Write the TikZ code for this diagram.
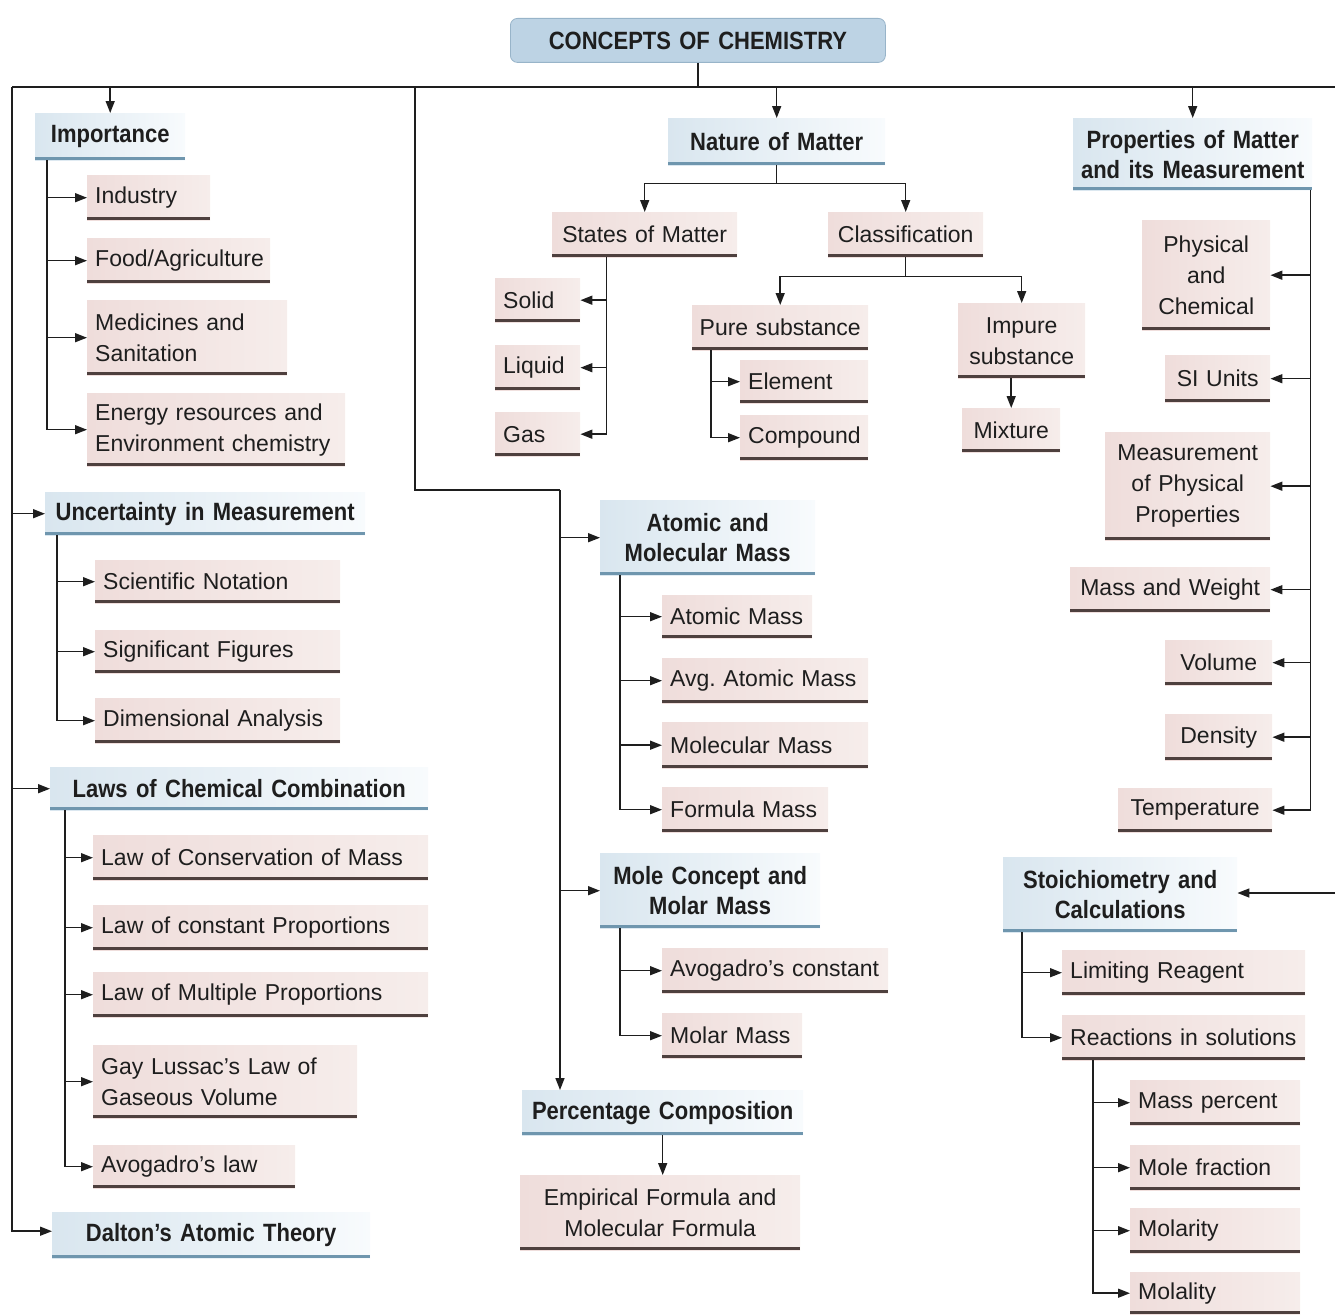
\documentclass[tikz,border=0pt]{standalone}
\usepackage{fontspec}
\setmainfont{Liberation Sans}
\newfontfamily\hdfont[FakeStretch=0.88]{Liberation Sans}
\usetikzlibrary{arrows.meta}
\frenchspacing
\hyphenpenalty=10000
\exhyphenpenalty=10000
\definecolor{pkL}{HTML}{EFDDDB}
\definecolor{pkR}{HTML}{F6EDEB}
\definecolor{shd}{HTML}{4E403E}
\definecolor{hdL}{HTML}{D9E6EF}
\definecolor{hdR}{HTML}{F8FBFD}
\definecolor{hdline}{HTML}{6F96AE}
\definecolor{ttl}{HTML}{BDD3E4}
\definecolor{ttlb}{HTML}{98B4C9}
\definecolor{ink}{HTML}{1E1E1E}
\tikzset{
  pk/.style={anchor=north west, inner xsep=8pt, inner ysep=0pt,
    font=\fontsize{23}{31}\selectfont, left color=pkL, right color=pkR,
    text=ink,
    path picture={\draw[line width=3pt,shd]
      ([yshift=1.5pt]path picture bounding box.south west) --
      ([yshift=1.5pt]path picture bounding box.south east);}},
  pkc/.style={pk, inner xsep=2pt, align=center},
  hd/.style={anchor=north west, inner xsep=2pt, inner ysep=0pt, align=center,
    font=\hdfont\bfseries\fontsize{25}{30}\selectfont, left color=hdL, right color=hdR,
    text=ink,
    path picture={\draw[line width=3pt,hdline]
      ([yshift=1.5pt]path picture bounding box.south west) --
      ([yshift=1.5pt]path picture bounding box.south east);}},
  ttlbox/.style={anchor=north west, inner xsep=2pt, inner ysep=0pt, align=center,
    font=\hdfont\bfseries\fontsize{25}{30}\selectfont, fill=ttl, draw=ttlb,
    line width=0.8pt, rounded corners=7pt, text=ink},
  conn/.style={draw=ink, line width=1.5pt},
  arr/.style={conn, -{Triangle[length=12pt,width=9pt]}},
}
\begin{document}
\begin{tikzpicture}[x=1pt,y=-1pt]
\useasboundingbox (0,0) rectangle (1335,1314);
% ---------- title and headings ----------
\node[ttlbox, text width=371pt, minimum height=44pt] (title) at (510,18) {CONCEPTS OF CHEMISTRY};
\node[hd, text width=146pt, minimum height=47pt] (imp) at (35,113) {Importance};
\node[hd, text width=213pt, minimum height=47pt] (nat) at (668,118) {Nature of Matter};
\node[hd, text width=235pt, minimum height=72pt] (prop) at (1073,118) {Properties of Matter\\and its Measurement};
\node[hd, text width=316pt, minimum height=43pt] (unc) at (45,492) {Uncertainty in Measurement};
\node[hd, text width=374pt, minimum height=43pt] (laws) at (50,767) {Laws of Chemical Combination};
\node[hd, text width=314pt, minimum height=46pt] (dalt) at (52,1212) {Dalton’s Atomic Theory};
\node[hd, text width=211pt, minimum height=75pt] (amm) at (600,500) {Atomic and\\Molecular Mass};
\node[hd, text width=216pt, minimum height=75pt] (mole) at (600,853) {Mole Concept and\\Molar Mass};
\node[hd, text width=277pt, minimum height=45pt] (pct) at (522,1090) {Percentage Composition};
\node[hd, text width=230pt, minimum height=75pt] (sto) at (1003,857) {Stoichiometry and\\Calculations};
% ---------- Importance ----------
\node[pk, text width=107pt, minimum height=45pt] (ind) at (87,175) {Industry};
\node[pk, text width=167pt, minimum height=45pt] (food) at (87,238) {Food/Agriculture};
\node[pk, text width=184pt, minimum height=75pt, align=left] (med) at (87,300) {Medicines and\\Sanitation};
\node[pk, text width=242pt, minimum height=73pt, align=left] (ener) at (87,393) {Energy resources and\\Environment chemistry};
% ---------- Uncertainty ----------
\node[pk, text width=229pt, minimum height=43pt] (sci) at (95,560) {Scientific Notation};
\node[pk, text width=229pt, minimum height=43pt] (sig) at (95,630) {Significant Figures};
\node[pk, text width=229pt, minimum height=45pt] (dim) at (95,698) {Dimensional Analysis};
% ---------- Laws ----------
\node[pk, text width=319pt, minimum height=45pt] (lcm) at (93,835) {Law of Conservation of Mass};
\node[pk, text width=319pt, minimum height=45pt] (lcp) at (93,905) {Law of constant Proportions};
\node[pk, text width=319pt, minimum height=45pt] (lmp) at (93,972) {Law of Multiple Proportions};
\node[pk, text width=248pt, minimum height=73pt, align=left] (gay) at (93,1045) {Gay Lussac’s Law of\\Gaseous Volume};
\node[pk, text width=186pt, minimum height=43pt] (avl) at (93,1145) {Avogadro’s law};
% ---------- Nature of matter ----------
\node[pkc, text width=181pt, minimum height=45pt] (som) at (552,212) {States of Matter};
\node[pkc, text width=151pt, minimum height=45pt] (cls) at (828,212) {Classification};
\node[pk, text width=69pt, minimum height=44pt] (sol) at (495,278) {Solid};
\node[pk, text width=69pt, minimum height=45pt] (liq) at (495,345) {Liquid};
\node[pk, text width=69pt, minimum height=44pt] (gas) at (495,412) {Gas};
\node[pkc, text width=172pt, minimum height=45pt] (pure) at (692,305) {Pure substance};
\node[pk, text width=112pt, minimum height=43pt] (elem) at (740,360) {Element};
\node[pk, text width=112pt, minimum height=45pt] (comp) at (740,415) {Compound};
\node[pkc, text width=123pt, minimum height=75pt] (imps) at (958,303) {Impure\\substance};
\node[pkc, text width=94pt, minimum height=44pt] (mix) at (962,408) {Mixture};
% ---------- Properties ----------
\node[pkc, text width=124pt, minimum height=110pt] (phys) at (1142,220) {Physical\\and\\Chemical};
\node[pkc, text width=101pt, minimum height=47pt] (si) at (1165,355) {SI Units};
\node[pkc, text width=161pt, minimum height=108pt] (meas) at (1105,432) {Measurement\\of Physical\\Properties};
\node[pkc, text width=196pt, minimum height=45pt] (mw) at (1070,567) {Mass and Weight};
\node[pkc, text width=103pt, minimum height=45pt] (vol) at (1165,640) {Volume};
\node[pkc, text width=103pt, minimum height=46pt] (den) at (1165,714) {Density};
\node[pkc, text width=150pt, minimum height=44pt] (temp) at (1118,788) {Temperature};
% ---------- Atomic and molecular mass ----------
\node[pk, text width=134pt, minimum height=43pt] (am) at (662,595) {Atomic Mass};
\node[pk, text width=190pt, minimum height=45pt] (aam) at (662,658) {Avg. Atomic Mass};
\node[pk, text width=190pt, minimum height=46pt] (mm) at (662,722) {Molecular Mass};
\node[pk, text width=150pt, minimum height=45pt] (fm) at (662,787) {Formula Mass};
% ---------- Mole concept ----------
\node[pk, text width=210pt, minimum height=45pt] (avc) at (662,948) {Avogadro’s constant};
\node[pk, text width=124pt, minimum height=45pt] (molm) at (662,1013) {Molar Mass};
\node[pkc, text width=276pt, minimum height=75pt] (emp) at (520,1175) {Empirical Formula and\\Molecular Formula};
% ---------- Stoichiometry ----------
\node[pk, text width=227pt, minimum height=45pt] (lim) at (1062,950) {Limiting Reagent};
\node[pk, text width=227pt, minimum height=45pt] (rea) at (1062,1015) {Reactions in solutions};
\node[pk, text width=154pt, minimum height=45pt] (mp) at (1130,1080) {Mass percent};
\node[pk, text width=154pt, minimum height=45pt] (mf) at (1130,1145) {Mole fraction};
\node[pk, text width=154pt, minimum height=45pt] (mol) at (1130,1208) {Molarity};
\node[pk, text width=154pt, minimum height=42pt] (mly) at (1130,1272) {Molality};

% ---------- connectors ----------
\coordinate (tl) at (12,87);
\coordinate (tr) at (1335,87);
\coordinate (m1) at (415,87);
\coordinate (m2) at (415,490);
\coordinate (m3) at (560,490);
\coordinate (re) at (1335,893);
\draw[conn] (title.south) -- (title.south |- tl);
\draw[conn] (tl) -- (tr);
\draw[arr] (imp.north |- tl) -- (imp.north);
\draw[arr] (nat.north |- tl) -- (nat.north);
\draw[arr] (prop.north |- tl) -- (prop.north);
% left trunk
\draw[arr] (tl) |- (unc.west);
\draw[arr] (tl) |- (laws.west);
\draw[arr] (tl) |- ([yshift=4pt]dalt.west);
% middle trunk
\draw[conn] (m1) -- (m2) -- (m3);
\draw[arr] (m3) -- (m3 |- pct.north);
\draw[arr] (m3) |- (amm.west);
\draw[arr] (m3) |- (mole.west);
% right: stoichiometry
\draw[arr] (re) -- (re -| sto.east);
% Importance
\foreach \n in {ind,food,med,ener} \draw[arr] ([xshift=12pt]imp.south west) |- (\n.west);
% Uncertainty
\foreach \n in {sci,sig,dim} \draw[arr] ([xshift=12pt]unc.south west) |- (\n.west);
% Laws
\foreach \n in {lcm,lcp,lmp,gay,avl} \draw[arr] ([xshift=15pt]laws.south west) |- (\n.west);
% Nature of matter
\draw[conn] (nat.south) -- ++(0,18) coordinate (nj);
\draw[arr] (nj) -| (som.north);
\draw[arr] (nj) -| (cls.north);
\foreach \n in {sol,liq,gas} \draw[arr] ([xshift=-38pt]som.south) |- (\n.east);
\draw[conn] (cls.south) -- ++(0,19) coordinate (cj);
\draw[arr] (cj) -| (pure.north);
\draw[arr] (cj) -| (imps.north);
\foreach \n in {elem,comp} \draw[arr] ([xshift=19pt]pure.south west) |- (\n.west);
\draw[arr] (imps.south -| mix.north) -- (mix.north);
% Properties
\foreach \n in {phys,si,meas,mw,vol,den,temp} \draw[arr] ([xshift=-2pt]prop.south east) |- (\n.east);
% Atomic / Mole
\foreach \n in {am,aam,mm,fm} \draw[arr] ([xshift=20pt]amm.south west) |- (\n.west);
\foreach \n in {avc,molm} \draw[arr] ([xshift=20pt]mole.south west) |- (\n.west);
\draw[arr] (pct.south) -- (pct.south |- emp.north);
% Stoichiometry
\foreach \n in {lim,rea} \draw[arr] ([xshift=19pt]sto.south west) |- (\n.west);
\foreach \n in {mp,mf,mol,mly} \draw[arr] ([xshift=31pt]rea.south west) |- (\n.west);
\end{tikzpicture}
\end{document}
